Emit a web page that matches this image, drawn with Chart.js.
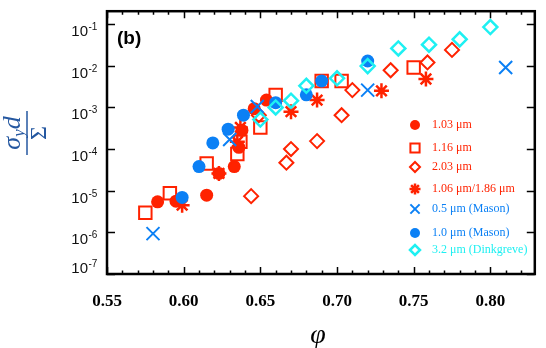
<!DOCTYPE html>
<html>
<head>
<meta charset="utf-8">
<script src="https://cdn.jsdelivr.net/npm/chart.js@4.4.1/dist/chart.umd.min.js"></script>
<style>
  html, body { margin: 0; padding: 0; background: #fff; }
</style>
</head>
<body>
<canvas id="yieldChart" width="546" height="348"></canvas>
<script>
const RED = "#ff2200";
const BLUE = "#0b80f5";
const CYAN = "#1ef0f2";
const TITLE_BLUE = "#2457a0";

// volume fraction phi and sigma_y d / Sigma
const phi103 = [0.583, 0.595, 0.615, 0.623, 0.633, 0.636, 0.638, 0.646, 0.654];
const val103 = [5.4e-6, 5.6e-6, 7.8e-6, 2.6e-5, 3.8e-5, 1.1e-4, 2.8e-4, 9.3e-4, 1.5e-3];

const phi116 = [0.575, 0.591, 0.615, 0.635, 0.637, 0.650, 0.660, 0.690, 0.703, 0.750];
const val116 = [2.95e-6, 8.7e-6, 4.5e-5, 7.6e-5, 1.5e-4, 3.3e-4, 2.0e-3, 4.3e-3, 4.3e-3, 9.1e-3];

const phi203 = [0.644, 0.649, 0.667, 0.670, 0.687, 0.703, 0.710, 0.735, 0.759, 0.775];
const val203 = [7.4e-6, 6.5e-4, 4.7e-5, 1.0e-4, 1.55e-4, 6.5e-4, 2.6e-3, 7.8e-3, 1.2e-2, 2.4e-2];

const phi106 = [0.599, 0.623, 0.635, 0.637, 0.670, 0.687, 0.729, 0.758];
const val106 = [4.5e-6, 2.6e-5, 1.5e-4, 3.3e-4, 7.9e-4, 1.5e-3, 2.5e-3, 4.8e-3];

const phiMason05 = [0.580, 0.630, 0.648, 0.720, 0.810];
const valMason05 = [9.3e-7, 1.7e-4, 1.05e-3, 2.6e-3, 9.1e-3];

const phiMason10 = [0.599, 0.610, 0.619, 0.629, 0.639, 0.660, 0.680, 0.690, 0.720];
const valMason10 = [6.9e-6, 3.8e-5, 1.4e-4, 3.0e-4, 6.5e-4, 1.3e-3, 2.0e-3, 4.3e-3, 1.3e-2];

const phiDink = [0.650, 0.660, 0.670, 0.680, 0.700, 0.720, 0.740, 0.760, 0.780, 0.800];
const valDink = [5.1e-4, 1.0e-3, 1.45e-3, 3.3e-3, 5.0e-3, 9.8e-3, 2.6e-2, 3.2e-2, 4.3e-2, 8.5e-2];

const xTicks = [0.55, 0.60, 0.65, 0.70, 0.75, 0.80];
const xMinorTicks = [0.56, 0.57, 0.58, 0.59, 0.61, 0.62, 0.63, 0.64, 0.66, 0.67, 0.68, 0.69,
  0.71, 0.72, 0.73, 0.74, 0.76, 0.77, 0.78, 0.79, 0.81, 0.82];
const yTicks = [-1, -2, -3, -4, -5, -6, -7];

const legendLabels = ["1.03 \u03bcm", "1.16 \u03bcm", "2.03 \u03bcm", "1.06 \u03bcm/1.86 \u03bcm",
  "0.5 \u03bcm (Mason)", "1.0 \u03bcm (Mason)", "3.2 \u03bcm (Dinkgreve)"];

const pts = (xs, ys) => xs.map((x, i) => ({ x: x, y: ys[i] }));

const series = [
  { data: pts(phi103, val103), pointStyle: "circle", pointRadius: 6.5, backgroundColor: RED, borderColor: RED, borderWidth: 0, order: 4 },
  { data: pts(phi116, val116), pointStyle: "rect", pointRadius: 8.8, backgroundColor: "rgba(0,0,0,0)", borderColor: RED, borderWidth: 2, order: 5 },
  { data: pts(phi203, val203), pointStyle: "rectRot", pointRadius: 7, backgroundColor: "rgba(0,0,0,0)", borderColor: RED, borderWidth: 2, order: 6 },
  { data: pts(phi106, val106), pointStyle: "star", pointRadius: 7.5, backgroundColor: RED, borderColor: RED, borderWidth: 2.5, order: 3 },
  { data: pts(phiMason05, valMason05), pointStyle: "crossRot", pointRadius: 9.2, backgroundColor: BLUE, borderColor: BLUE, borderWidth: 2, order: 2 },
  { data: pts(phiMason10, valMason10), pointStyle: "circle", pointRadius: 6.5, backgroundColor: BLUE, borderColor: BLUE, borderWidth: 0, order: 1 },
  { data: pts(phiDink, valDink), pointStyle: "rectRot", pointRadius: 7, backgroundColor: "rgba(0,0,0,0)", borderColor: CYAN, borderWidth: 2.5, order: 0 }
];

const legendColors = [RED, RED, RED, RED, BLUE, BLUE, CYAN];
const legendY = [125, 148, 167, 189, 209, 233, 250];
const legendMarkR = [5, 6.5, 5, 5.5, 6.5, 5, 5];

// frame, inward ticks, tick labels, titles and legend
const framePlugin = {
  id: "frame",
  afterDraw(chart) {
    const { ctx, chartArea: a, scales: { x, y } } = chart;
    ctx.save();
    ctx.strokeStyle = "#000";
    ctx.lineCap = "butt";

    ctx.lineWidth = 1.5;
    ctx.beginPath();
    xMinorTicks.forEach(v => {
      const px = Math.round(x.getPixelForValue(v)) + 0.5;
      ctx.moveTo(px, a.bottom); ctx.lineTo(px, a.bottom - 3.5);
      ctx.moveTo(px, a.top); ctx.lineTo(px, a.top + 3.5);
    });
    xTicks.forEach(v => {
      const px = Math.round(x.getPixelForValue(v)) + 0.5;
      ctx.moveTo(px, a.bottom); ctx.lineTo(px, a.bottom - 7);
      ctx.moveTo(px, a.top); ctx.lineTo(px, a.top + 7);
    });
    yTicks.forEach(e => {
      const py = Math.round(y.getPixelForValue(Math.pow(10, e))) + 0.5;
      ctx.moveTo(a.left, py); ctx.lineTo(a.left + 8, py);
      ctx.moveTo(a.right, py); ctx.lineTo(a.right - 8, py);
    });
    ctx.stroke();

    ctx.lineWidth = 2.5;
    ctx.strokeRect(a.left, a.top, a.right - a.left, a.bottom - a.top);

    // x tick labels
    ctx.fillStyle = "#000";
    ctx.font = "bold 17px 'Liberation Serif', serif";
    ctx.textAlign = "center";
    ctx.textBaseline = "alphabetic";
    xTicks.forEach(v => {
      ctx.fillText(v.toFixed(2), x.getPixelForValue(v), 306);
    });

    // y tick labels 10^n
    ctx.fillStyle = "#111";
    yTicks.forEach(e => {
      const py = y.getPixelForValue(Math.pow(10, e));
      const base = e === -7 ? py - 1 : py + 12;
      ctx.font = "15px 'Liberation Sans', Arial, sans-serif";
      ctx.textAlign = "right";
      ctx.fillText("10", 88, base);
      ctx.font = "10px 'Liberation Sans', Arial, sans-serif";
      ctx.textAlign = "left";
      ctx.fillText(String(e), 88.5, base - 6);
    });

    // panel label
    ctx.font = "bold 19px 'Liberation Sans', Arial, sans-serif";
    ctx.fillStyle = "#000";
    ctx.textAlign = "left";
    ctx.textBaseline = "middle";
    ctx.fillText("(b)", 117, 39);

    // x title
    ctx.font = "italic 28px 'Liberation Serif', serif";
    ctx.textAlign = "center";
    ctx.textBaseline = "alphabetic";
    ctx.fillText("\u03c6", 318, 343);

    // y title, a fraction turned on its side
    ctx.save();
    ctx.translate(27, 133);
    ctx.rotate(-Math.PI / 2);
    ctx.fillStyle = TITLE_BLUE;
    ctx.strokeStyle = TITLE_BLUE;
    const big = "italic 26px 'Liberation Serif', serif";
    const small = "italic 17px 'Liberation Serif', serif";
    ctx.font = big;
    const wS = ctx.measureText("\u03c3").width;
    const wD = ctx.measureText("d").width;
    ctx.font = small;
    const wY = ctx.measureText("y").width;
    let u = -(wS + wY + wD) / 2;
    ctx.textAlign = "left";
    ctx.font = big;
    ctx.fillText("\u03c3", u, -7);
    u += wS;
    ctx.font = small;
    ctx.fillText("y", u, -3);
    u += wY;
    ctx.font = big;
    ctx.fillText("d", u, -7);
    ctx.lineWidth = 1.5;
    ctx.beginPath();
    ctx.moveTo(-22, 0); ctx.lineTo(22, 0);
    ctx.stroke();
    ctx.font = "24px 'Liberation Serif', serif";
    ctx.textAlign = "center";
    ctx.fillText("\u03a3", 0, 19);
    ctx.restore();

    // legend
    ctx.font = "12px 'Liberation Serif', serif";
    ctx.textAlign = "left";
    ctx.textBaseline = "middle";
    series.forEach((s, i) => {
      const ly = legendY[i];
      ctx.fillStyle = s.backgroundColor;
      ctx.strokeStyle = s.borderColor;
      ctx.lineWidth = s.borderWidth || 0;
      Chart.helpers.drawPoint(ctx, { pointStyle: s.pointStyle, radius: legendMarkR[i], rotation: 0, borderWidth: s.borderWidth }, 415, ly);
      ctx.fillStyle = legendColors[i];
      ctx.fillText(legendLabels[i], 432, ly);
    });
    ctx.restore();
  }
};

new Chart(document.getElementById("yieldChart"), {
  type: "scatter",
  data: {
    datasets: series.map((s, i) => ({
      label: legendLabels[i],
      data: s.data,
      pointStyle: s.pointStyle,
      pointRadius: s.pointRadius,
      pointHoverRadius: s.pointRadius,
      backgroundColor: s.backgroundColor,
      borderColor: s.borderColor,
      borderWidth: s.borderWidth,
      order: s.order
    }))
  },
  options: {
    responsive: false,
    animation: false,
    devicePixelRatio: 1,
    layout: { padding: { left: 107, right: 8, top: 7, bottom: 74 } },
    scales: {
      x: { type: "linear", min: 0.55, max: 0.829, display: false },
      y: { type: "logarithmic", min: 1e-7, max: 0.204, display: false }
    },
    plugins: {
      legend: { display: false },
      tooltip: { enabled: false }
    }
  },
  plugins: [framePlugin]
});
</script>
</body>
</html>
